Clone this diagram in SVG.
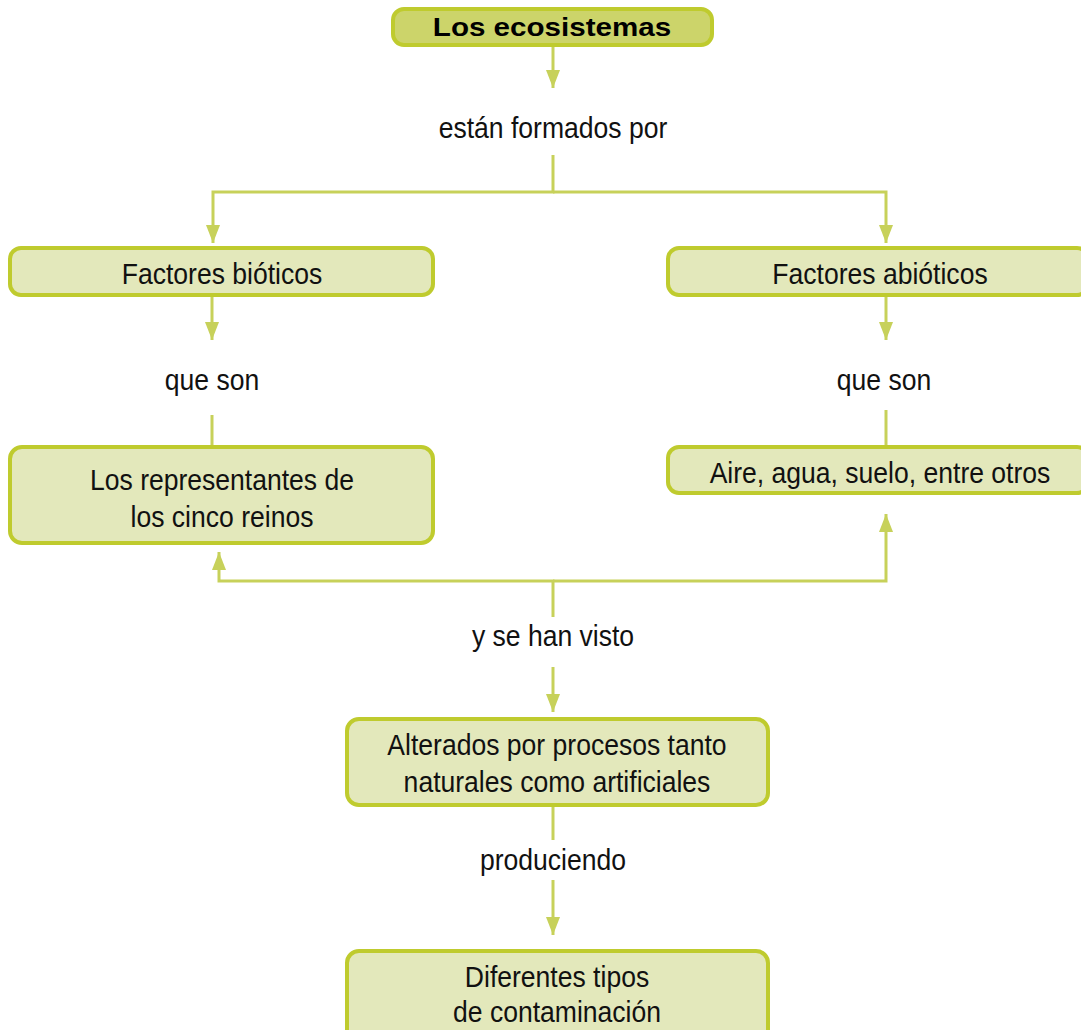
<svg xmlns="http://www.w3.org/2000/svg" width="1081" height="1030" viewBox="0 0 1081 1030">
<style>
.box{fill:#e3e8bb;stroke:#bfcb2e;stroke-width:4}
.title{fill:#ccd46a;stroke:#bfcb2e;stroke-width:4}
.t{font-family:"Liberation Sans",Arial,sans-serif;font-size:29.5px;fill:#111;text-anchor:middle}
.tb{font-family:"Liberation Sans",Arial,sans-serif;font-size:25.5px;font-weight:bold;fill:#000;text-anchor:middle}
.c{fill:none;stroke:#c7d15a;stroke-width:3}
</style>
<defs>
<marker id="ah" viewBox="0 0 18 14" refX="18" refY="7" markerWidth="18" markerHeight="14" markerUnits="userSpaceOnUse" orient="auto">
<path d="M0,0 L18,7 L0,14 Z" fill="#c7d15a"/>
</marker>
</defs>
<g id="connectors">
<path class="c" d="M553,45 V88" marker-end="url(#ah)"/>
<text class="t" transform="translate(553 138) scale(0.9 1)">están formados por</text>
<path class="c" d="M553,155 V192 H213 V243" marker-end="url(#ah)"/>
<path class="c" d="M553,192 H886 V243" marker-end="url(#ah)"/>
<path class="c" d="M212,295 V340" marker-end="url(#ah)"/>
<path class="c" d="M886,295 V340" marker-end="url(#ah)"/>
<text class="t" transform="translate(212 390) scale(0.9 1)">que son</text>
<text class="t" transform="translate(884 390) scale(0.9 1)">que son</text>
<path class="c" d="M212,415 V447"/>
<path class="c" d="M886,410 V447"/>
<path class="c" d="M553,617 V581 H219 V552" marker-end="url(#ah)"/>
<path class="c" d="M553,581 H886 V514" marker-end="url(#ah)"/>
<text class="t" transform="translate(553 646) scale(0.9 1)">y se han visto</text>
<path class="c" d="M553,667 V712" marker-end="url(#ah)"/>
<path class="c" d="M553,805 V840"/>
<text class="t" transform="translate(553 870) scale(0.9 1)">produciendo</text>
<path class="c" d="M553,880 V935" marker-end="url(#ah)"/>
</g>
<g id="n-title">
<rect class="title" x="393" y="9" width="319" height="36" rx="11"/>
<text class="tb" transform="translate(552 36) scale(1.16 1)">Los ecosistemas</text>
</g>
<g id="n-bioticos">
<rect class="box" x="10" y="248" width="423" height="47" rx="11"/>
<text class="t" transform="translate(222 284) scale(0.9 1)">Factores bióticos</text>
</g>
<g id="n-abioticos">
<rect class="box" x="668" y="248" width="420" height="47" rx="11"/>
<text class="t" transform="translate(880 284) scale(0.9 1)">Factores abióticos</text>
</g>
<g id="n-representantes">
<rect class="box" x="10" y="447" width="423" height="96" rx="12"/>
<text class="t" transform="translate(222 490) scale(0.9 1)">Los representantes de</text>
<text class="t" transform="translate(222 527) scale(0.9 1)">los cinco reinos</text>
</g>
<g id="n-aire">
<rect class="box" x="668" y="447" width="420" height="46" rx="11"/>
<text class="t" transform="translate(880 483) scale(0.9 1)">Aire, agua, suelo, entre otros</text>
</g>
<g id="n-alterados">
<rect class="box" x="347" y="719" width="421" height="86" rx="12"/>
<text class="t" transform="translate(557 755) scale(0.9 1)">Alterados por procesos tanto</text>
<text class="t" transform="translate(557 792) scale(0.9 1)">naturales como artificiales</text>
</g>
<g id="n-contaminacion">
<rect class="box" x="347" y="951" width="421" height="100" rx="12"/>
<text class="t" transform="translate(557 987) scale(0.9 1)">Diferentes tipos</text>
<text class="t" transform="translate(557 1022) scale(0.9 1)">de contaminación</text>
</g>
</svg>
